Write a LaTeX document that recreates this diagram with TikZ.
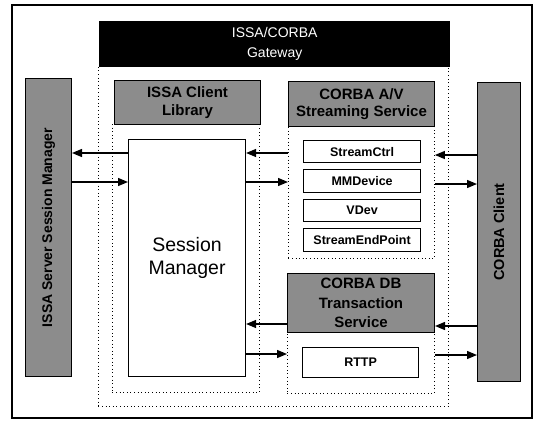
\documentclass[tikz,border=0pt]{standalone}
\usepackage{fontspec}
\setmainfont{Liberation Sans}
\usetikzlibrary{arrows.meta}
\begin{document}
\begin{tikzpicture}[x=1pt,y=-1pt,
  hdr/.style={draw=black,line width=1pt,fill=black!45,anchor=north west,inner sep=0pt,align=center,font=\fontsize{15}{17.5}\selectfont\bfseries},
  sidebox/.style={draw=black,line width=1pt,fill=black!45,anchor=north west,inner sep=0pt},
  ibox/.style={draw=black,line width=1.2pt,fill=white,anchor=north west,inner sep=0pt,font=\fontsize{12.5}{14}\selectfont\bfseries},
  dotbox/.style={draw=black,line width=0.9pt,dash pattern=on 1pt off 2.6pt},
  arr/.style={line width=1.3pt,-{Triangle[length=10pt,width=8pt]}}
]
\useasboundingbox (0,0) rectangle (539,424);
\draw[line width=1.5pt] (12,5) rectangle (532,418);
% gateway
\node[dotbox,anchor=north west,minimum width=350pt,minimum height=340pt,inner sep=0pt] (gw) at (98,66) {};
\node[fill=black,anchor=north west,minimum width=351pt,minimum height=46pt,inner sep=0pt,align=center,text=white,font=\fontsize{14}{20}\selectfont] (gwh) at (99,21) {ISSA/CORBA\\Gateway};
% ISSA client library
\node[dotbox,anchor=north west,minimum width=147pt,minimum height=268pt,inner sep=0pt] (clbox) at (112,124) {};
\node[hdr,minimum width=146pt,minimum height=44pt] (clh) at (114,80) {ISSA Client\\Library};
\node[draw=black,line width=1.1pt,fill=white,anchor=north west,minimum width=117pt,minimum height=237pt,inner sep=0pt,align=center,font=\fontsize{19.5}{23}\selectfont] (sm) at (128,139) {Session\\Manager};
% A/V streaming
\node[dotbox,anchor=north west,minimum width=146pt,minimum height=132pt,inner sep=0pt] (avbox) at (288,126) {};
\node[hdr,minimum width=146pt,minimum height=45pt] (avh) at (288,81) {CORBA A/V\\Streaming Service};
\node[ibox,minimum width=117pt,minimum height=22pt] (sc) at (303,140) {StreamCtrl};
\node[ibox,minimum width=117pt,minimum height=23pt] (mm) at (303,169) {MMDevice};
\node[ibox,minimum width=117pt,minimum height=22pt] (vd) at (303,199) {VDev};
\node[ibox,minimum width=117pt,minimum height=23pt] (sep) at (303,228) {StreamEndPoint};
% DB transaction
\node[dotbox,anchor=north west,minimum width=147pt,minimum height=61pt,inner sep=0pt] (dbbox) at (287,332) {};
\node[hdr,minimum width=147pt,minimum height=59pt,font=\fontsize{15}{19.5}\selectfont\bfseries] (dbh) at (287,273) {CORBA DB\\Transaction\\Service};
\node[ibox,minimum width=116pt,minimum height=30pt] (rttp) at (302,347) {RTTP};
% side boxes
\node[sidebox,minimum width=46pt,minimum height=298pt] (srv) at (25,78) {};
\node[rotate=90,font=\fontsize{14}{17}\selectfont\bfseries] (srvt) at (srv.center) {ISSA Server Session Manager};
\node[sidebox,minimum width=43pt,minimum height=299pt] (cli) at (477,82) {};
\node[rotate=90,font=\fontsize{14.5}{17}\selectfont\bfseries] (clit) at (cli.center) {CORBA Client};
% arrow levels
\coordinate (ya) at (0,153);
\coordinate (yb) at (0,182);
\coordinate (yc) at (0,324);
\coordinate (yd) at (0,354);
\coordinate (ye) at (0,155);
\coordinate (yf) at (0,184);
\coordinate (yg) at (0,326);
\coordinate (yh) at (0,355);
% left arrows
\draw[arr] (sm.west |- ya) -- (srv.east |- ya);
\draw[arr] (srv.east |- yb) -- (sm.west |- yb);
% middle arrows
\draw[arr] (avbox.west |- ya) -- (sm.east |- ya);
\draw[arr] (sm.east |- yb) -- (avbox.west |- yb);
\draw[arr] (dbh.west |- yc) -- (sm.east |- yc);
\draw[arr] (sm.east |- yd) -- (dbbox.west |- yd);
% right arrows
\draw[arr] (cli.west |- ye) -- (avbox.east |- ye);
\draw[arr] (avbox.east |- yf) -- (cli.west |- yf);
\draw[arr] (cli.west |- yg) -- (dbh.east |- yg);
\draw[arr] (dbbox.east |- yh) -- (cli.west |- yh);
\end{tikzpicture}
\end{document}
